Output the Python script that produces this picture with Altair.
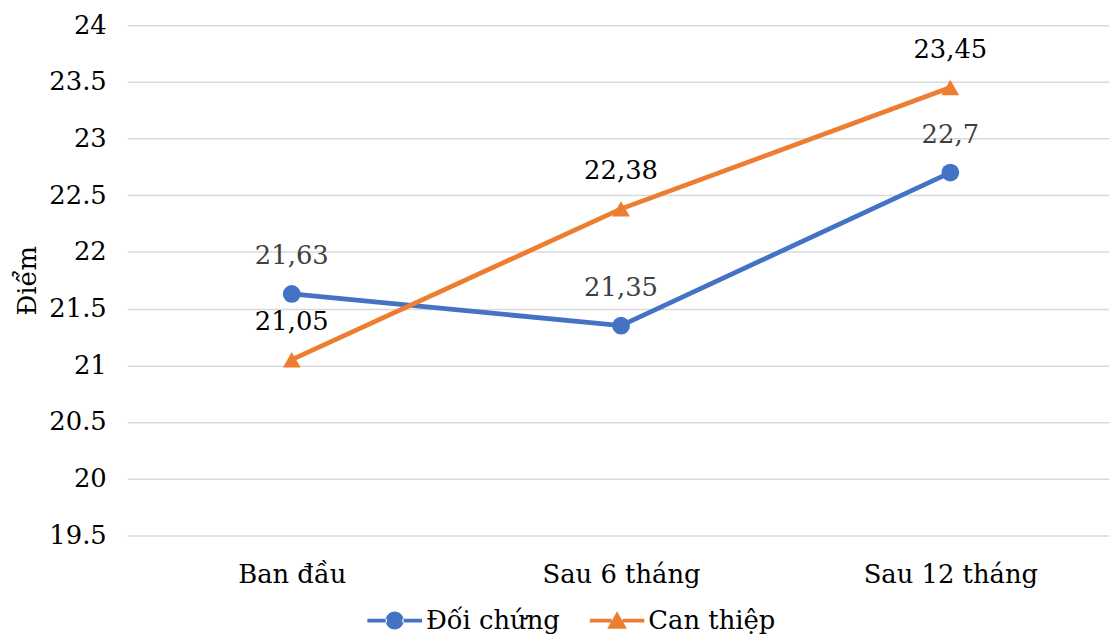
import altair as alt
import pandas as pd

categories = ["Ban đầu", "Sau 6 tháng", "Sau 12 tháng"]
series_names = ["Đối chứng", "Can thiệp"]
doi_chung = [21.63, 21.35, 22.7]
can_thiep = [21.05, 22.38, 23.45]
y_ticks = [19.5, 20, 20.5, 21, 21.5, 22, 22.5, 23, 23.5, 24]

rows = []
for s, vals in zip(series_names, [doi_chung, can_thiep]):
    for c, v in zip(categories, vals):
        rows.append({"cat": c, "series": s, "value": v, "label": str(v).replace(".", ",")})
df = pd.DataFrame(rows)

FONT = "DejaVu Serif"
FS = 26
BLUE = "#4472C4"
ORANGE = "#ED7D31"

circle_path = ("M -1,-0.07 L -0.28,-0.07 L -0.28,0.07 L -1,0.07 Z "
               "M 0.28,-0.07 L 1,-0.07 L 1,0.07 L 0.28,0.07 Z "
               "M -0.33,0 A 0.33,0.33 0 1,0 0.33,0 A 0.33,0.33 0 1,0 -0.33,0 Z")
tri_path = ("M -1,-0.07 L -0.2,-0.07 L -0.2,0.07 L -1,0.07 Z "
            "M 0.2,-0.07 L 1,-0.07 L 1,0.07 L 0.2,0.07 Z "
            "M 0,-0.34 L 0.36,0.3 L -0.36,0.3 Z")

x_enc = alt.X("cat:N", sort=categories, scale=alt.Scale(range=[-7, 988]),
              axis=alt.Axis(title=None, labelFont=FONT, labelFontSize=FS, labelColor="#000000",
                            labelAngle=0, labelPadding=26, ticks=False, domain=False, grid=False))
y_enc = alt.Y("value:Q", scale=alt.Scale(domain=[19.5, 24], nice=False, zero=False),
              axis=alt.Axis(values=y_ticks, format="~g", title="Điểm", titleFont=FONT,
                            titleFontSize=FS, titleFontWeight="normal", titleColor="#000000",
                            titleAngle=-90, titleX=-107, titleY=257, titleAlign="center",
                            titleBaseline="middle",
                            labelFont=FONT, labelFontSize=FS, labelColor="#000000",
                            labelPadding=28, ticks=False, domain=False,
                            gridColor="#D9D9D9", gridWidth=1.5))
color_scale = alt.Scale(domain=series_names, range=[BLUE, ORANGE])

lines = alt.Chart(df).mark_line(strokeWidth=4.8).encode(
    x=x_enc, y=y_enc,
    color=alt.Color("series:N", scale=color_scale, legend=None),
    detail="series:N",
)

points = alt.Chart(df).mark_point(filled=True, opacity=1, size=320).encode(
    x=x_enc, y=y_enc,
    color=alt.Color("series:N", scale=color_scale, legend=None),
    shape=alt.Shape("series:N", scale=alt.Scale(domain=series_names, range=["circle", "triangle-up"]),
                    legend=None),
)

legend_params = dict(
    title=None, orient="none", legendX=235, legendY=572,
    direction="horizontal", symbolSize=3025, labelFont=FONT,
    labelFontSize=FS, labelColor="#000000", labelOffset=4,
    columnPadding=30, symbolStrokeWidth=0)

legend_layer = alt.Chart(df).mark_point(filled=True, opacity=1, size=0).encode(
    x=x_enc, y=y_enc,
    color=alt.Color("series:N", scale=color_scale, legend=alt.Legend(**legend_params)),
    shape=alt.Shape("series:N", scale=alt.Scale(domain=series_names, range=[circle_path, tri_path]),
                    legend=alt.Legend(**legend_params)),
)

text_blue = alt.Chart(df).transform_filter(alt.datum.series == series_names[0]).mark_text(
    font=FONT, fontSize=FS, color="#404040", dy=-38, baseline="middle"
).encode(x=x_enc, y=y_enc, text="label:N")

text_orange = alt.Chart(df).transform_filter(alt.datum.series == series_names[1]).mark_text(
    font=FONT, fontSize=FS, color="#000000", dy=-38, baseline="middle"
).encode(x=x_enc, y=y_enc, text="label:N")

chart = alt.layer(lines, points, legend_layer, text_blue, text_orange).resolve_scale(
    shape="independent", color="independent"
).properties(
    width=982, height=514, background="#FFFFFF",
    autosize=alt.AutoSizeParams(type="none"),
    padding={"left": 127, "top": 15, "right": 0, "bottom": 100},
).configure_view(strokeWidth=0, stroke="transparent")

chart.save("out.html", embed_options={"renderer": "svg", "actions": False})
